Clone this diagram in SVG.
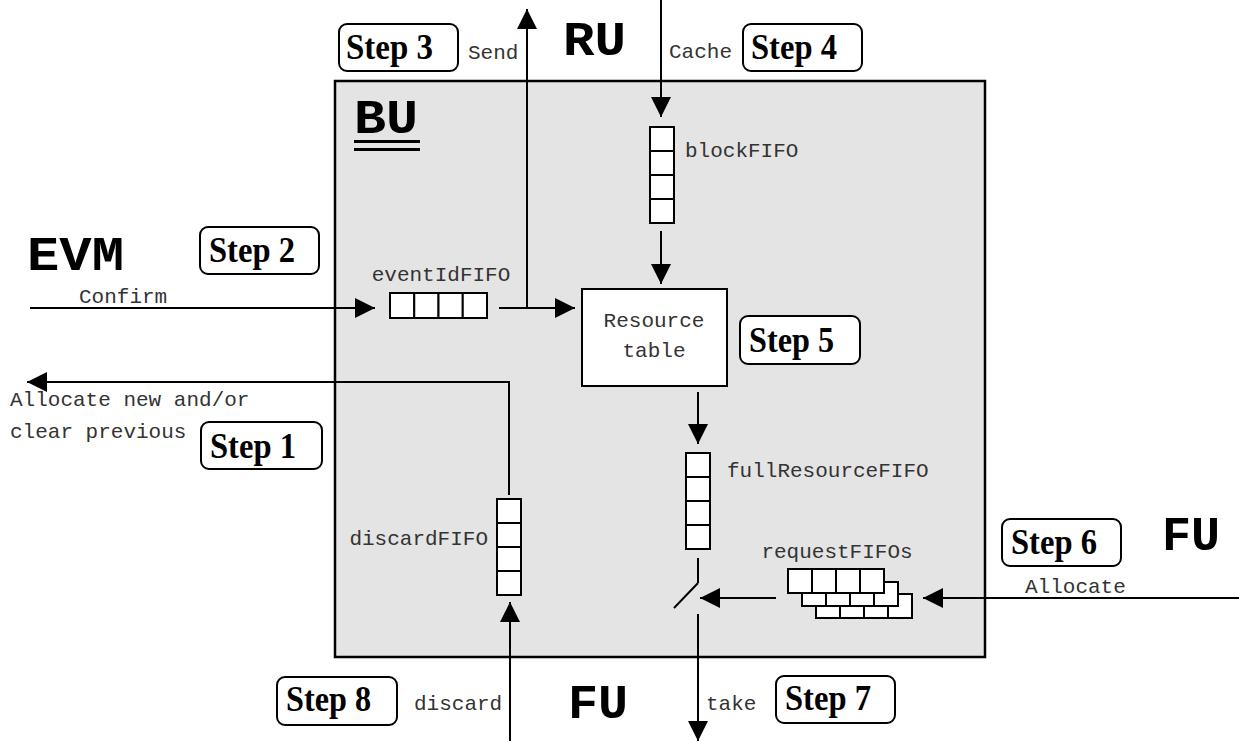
<svg xmlns="http://www.w3.org/2000/svg" width="1239" height="742" viewBox="0 0 1239 742">
<style>
.bu{fill:#e4e4e4;stroke:#000;stroke-width:2.5}
.cell{fill:#fff;stroke:#000;stroke-width:2}
.step{fill:#fff;stroke:#000;stroke-width:2}
.stept{font-family:"Liberation Serif",serif;font-weight:bold;font-size:35px;fill:#000}
.mono{font-family:"Liberation Mono","Courier New",monospace;font-size:21px;fill:#333}
.big{font-family:"Liberation Mono","Courier New",monospace;font-weight:bold;font-size:48px;fill:#000}
.ln{fill:none;stroke:#000;stroke-width:2}
.arr{fill:none;stroke:#000;stroke-width:2;marker-end:url(#ah)}
</style>
<defs>
<marker id="ah" viewBox="0 0 20 20" refX="20" refY="10" markerWidth="20" markerHeight="20" markerUnits="userSpaceOnUse" orient="auto">
<path d="M0,0 L20,10 L0,20 z" fill="#000"/>
</marker>
</defs>
<rect width="1239" height="742" fill="#fff"/>

<g id="BU">
<rect class="bu" x="335" y="81" width="650" height="576"/>
<text class="big" x="354" y="133" font-size="46" textLength="64" lengthAdjust="spacingAndGlyphs">BU</text>
<line x1="354" y1="141.5" x2="420" y2="141.5" stroke="#000" stroke-width="3"/>
<line x1="354" y1="149.5" x2="420" y2="149.5" stroke="#000" stroke-width="3"/>
</g>

<g id="EVM"><text class="big" x="27" y="270" textLength="97" lengthAdjust="spacingAndGlyphs">EVM</text></g>
<g id="RU"><text class="big" x="563" y="55" textLength="63" lengthAdjust="spacingAndGlyphs">RU</text></g>
<g id="FU-bottom"><text class="big" x="568" y="718" textLength="60" lengthAdjust="spacingAndGlyphs">FU</text></g>
<g id="FU-right"><text class="big" x="1162" y="550" textLength="58" lengthAdjust="spacingAndGlyphs">FU</text></g>

<g id="blockFIFO">
<rect class="cell" x="650" y="127" width="24" height="24"/>
<rect class="cell" x="650" y="151" width="24" height="24"/>
<rect class="cell" x="650" y="175" width="24" height="24"/>
<rect class="cell" x="650" y="199" width="24" height="24"/>
<text class="mono" x="685" y="157">blockFIFO</text>
</g>

<g id="eventIdFIFO">
<rect class="cell" x="390" y="293" width="24.25" height="25"/>
<rect class="cell" x="414.25" y="293" width="24.25" height="25"/>
<rect class="cell" x="438.5" y="293" width="24.25" height="25"/>
<rect class="cell" x="462.75" y="293" width="24.25" height="25"/>
<text class="mono" x="441" y="281" text-anchor="middle">eventIdFIFO</text>
</g>

<g id="resourceTable">
<rect class="cell" x="582" y="289" width="145" height="97"/>
<text class="mono" x="654" y="327" text-anchor="middle">Resource</text>
<text class="mono" x="654" y="357" text-anchor="middle">table</text>
</g>

<g id="fullResourceFIFO">
<rect class="cell" x="686" y="453" width="24" height="24"/>
<rect class="cell" x="686" y="477" width="24" height="24"/>
<rect class="cell" x="686" y="501" width="24" height="24"/>
<rect class="cell" x="686" y="525" width="24" height="24"/>
<text class="mono" x="727" y="477">fullResourceFIFO</text>
</g>

<g id="discardFIFO">
<rect class="cell" x="497" y="499" width="24" height="24"/>
<rect class="cell" x="497" y="523" width="24" height="24"/>
<rect class="cell" x="497" y="547" width="24" height="24"/>
<rect class="cell" x="497" y="571" width="24" height="24"/>
<text class="mono" x="488" y="545" text-anchor="end">discardFIFO</text>
</g>

<g id="requestFIFOs">
<g transform="translate(28,25)">
<rect class="cell" x="788" y="569" width="24" height="24"/><rect class="cell" x="812" y="569" width="24" height="24"/><rect class="cell" x="836" y="569" width="24" height="24"/><rect class="cell" x="860" y="569" width="24" height="24"/>
</g>
<g transform="translate(14,13)">
<rect class="cell" x="788" y="569" width="24" height="24"/><rect class="cell" x="812" y="569" width="24" height="24"/><rect class="cell" x="836" y="569" width="24" height="24"/><rect class="cell" x="860" y="569" width="24" height="24"/>
</g>
<rect class="cell" x="788" y="569" width="24" height="24"/><rect class="cell" x="812" y="569" width="24" height="24"/><rect class="cell" x="836" y="569" width="24" height="24"/><rect class="cell" x="860" y="569" width="24" height="24"/>
<text class="mono" x="837" y="558" text-anchor="middle">requestFIFOs</text>
</g>

<g id="switch">
<line class="ln" x1="698" y1="558" x2="698" y2="583"/>
<line class="ln" x1="698" y1="583" x2="674" y2="608"/>
</g>

<g id="step1"><rect class="step" x="201" y="422" width="121" height="47" rx="8"/><text class="stept" x="210" y="458" textLength="86" lengthAdjust="spacingAndGlyphs">Step 1</text></g>
<g id="step2"><rect class="step" x="200" y="227" width="119" height="47" rx="8"/><text class="stept" x="209" y="262" textLength="86" lengthAdjust="spacingAndGlyphs">Step 2</text></g>
<g id="step3"><rect class="step" x="339" y="24" width="119" height="47" rx="8"/><text class="stept" x="346" y="59" textLength="87" lengthAdjust="spacingAndGlyphs">Step 3</text></g>
<g id="step4"><rect class="step" x="743" y="24" width="119" height="47" rx="8"/><text class="stept" x="751" y="59" textLength="86" lengthAdjust="spacingAndGlyphs">Step 4</text></g>
<g id="step5"><rect class="step" x="740" y="316" width="120" height="48" rx="8"/><text class="stept" x="749" y="352" textLength="85" lengthAdjust="spacingAndGlyphs">Step 5</text></g>
<g id="step6"><rect class="step" x="1002" y="519" width="119" height="47" rx="8"/><text class="stept" x="1011" y="554" textLength="86" lengthAdjust="spacingAndGlyphs">Step 6</text></g>
<g id="step7"><rect class="step" x="776" y="676" width="119" height="47" rx="8"/><text class="stept" x="785" y="710" textLength="86" lengthAdjust="spacingAndGlyphs">Step 7</text></g>
<g id="step8"><rect class="step" x="277" y="677" width="120" height="48" rx="8"/><text class="stept" x="286" y="711" textLength="85" lengthAdjust="spacingAndGlyphs">Step 8</text></g>

<g id="connectors">
<path class="arr" d="M30,308 L375,308"/>
<text class="mono" x="79" y="303">Confirm</text>
<path class="arr" d="M499,308 L575,308"/>
<path class="arr" d="M527,308 L527,9"/>
<text class="mono" x="468" y="59">Send</text>
<path class="arr" d="M661,0 L661,117"/>
<text class="mono" x="669" y="58">Cache</text>
<path class="arr" d="M661,231 L661,284"/>
<path class="arr" d="M698,392 L698,444"/>
<path class="arr" d="M509,495 L509,382 L27,382"/>
<text class="mono" x="10" y="406">Allocate new and/or</text>
<text class="mono" x="10" y="438">clear previous</text>
<path class="arr" d="M510,741 L510,602"/>
<text class="mono" x="414" y="710">discard</text>
<path class="arr" d="M776,598 L700,598"/>
<path class="arr" d="M1239,598 L923,598"/>
<text class="mono" x="1025" y="593">Allocate</text>
<path class="arr" d="M698,614 L698,741"/>
<text class="mono" x="706" y="710">take</text>
</g>
</svg>
